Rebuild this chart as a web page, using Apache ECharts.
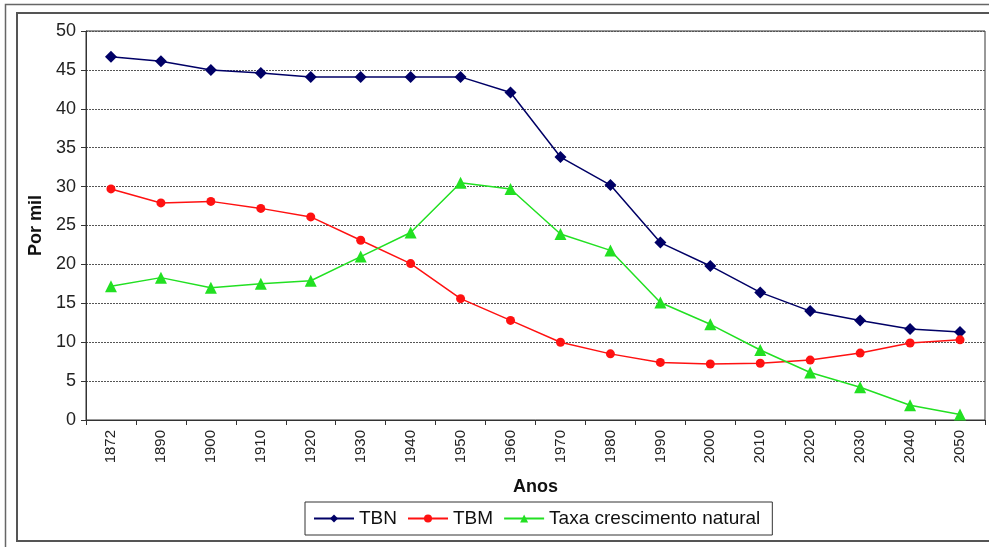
<!DOCTYPE html>
<html>
<head>
<meta charset="utf-8">
<script src="https://cdn.jsdelivr.net/npm/echarts@6/dist/echarts.min.js"></script>
<style>html,body{margin:0;padding:0;background:#fff;}#c{width:989px;height:547px;}</style>
</head>
<body>
<div id="c"></div>
<script>
var years = ['1872','1890','1900','1910','1920','1930','1940','1950','1960','1970','1980','1990','2000','2010','2020','2030','2040','2050'];
var tbn = [46.7,46.1,45.0,44.6,44.1,44.1,44.1,44.1,42.1,33.8,30.2,22.8,19.8,16.4,14.0,12.8,11.7,11.3];
var tbm = [29.7,27.9,28.1,27.2,26.1,23.1,20.1,15.6,12.8,10.0,8.5,7.4,7.2,7.3,7.7,8.6,9.9,10.3];
var taxa = [17.2,18.3,17.0,17.5,17.9,21.0,24.1,30.5,29.7,23.9,21.8,15.1,12.3,9.0,6.1,4.2,1.9,0.7];
var seriesNames = ['TBN','TBM','Taxa crescimento natural'];

var chart = echarts.init(document.getElementById('c'), null, {renderer:'canvas'});
var font = 'Liberation Sans, Arial, sans-serif';
chart.setOption({
  animation: false,
  backgroundColor: '#fff',
  textStyle: {fontFamily: font},
  graphic: [
    {type:'rect', shape:{x:5.5, y:4.5, width:1000, height:560}, style:{fill:'none', stroke:'#666', lineWidth:1.5}, z:-10},
    {type:'rect', shape:{x:17, y:13, width:1000, height:528}, style:{fill:'none', stroke:'#555', lineWidth:2}, z:-10}
  ],
  grid: {left:86, right:4, top:31, bottom:127, show:true, borderColor:'#333', borderWidth:1, backgroundColor:'transparent'},
  legend: {
    data: seriesNames,
    left: 305, top: 502, width: 480,
    padding: [7, 12, 7, 8],
    itemGap: 10,
    itemWidth: 40, itemHeight: 10,
    borderColor: '#333', borderWidth: 1, borderRadius: 0,
    textStyle: {fontSize: 19, color: '#111', fontFamily: font}
  },
  xAxis: {
    type: 'category',
    data: years,
    boundaryGap: true,
    name: 'Anos',
    nameLocation: 'middle',
    nameGap: 58,
    nameTextStyle: {fontSize: 18, fontWeight: 'bold', color: '#111', fontFamily: font},
    axisLine: {lineStyle: {color: '#333', width: 1}},
    axisTick: {show: true, length: 5, lineStyle: {color: '#333'}},
    axisLabel: {rotate: 90, fontSize: 15, color: '#222', margin: 10, fontFamily: font},
    splitLine: {show: false}
  },
  yAxis: {
    type: 'value',
    min: 0, max: 50, interval: 5,
    name: 'Por mil',
    nameLocation: 'middle',
    nameGap: 40,
    nameRotate: 90,
    nameTextStyle: {fontSize: 18, fontWeight: 'bold', color: '#111', fontFamily: font},
    axisLine: {show: true, lineStyle: {color: '#333', width: 1}},
    axisTick: {show: true, length: 5, lineStyle: {color: '#333'}},
    axisLabel: {fontSize: 18, color: '#222', margin: 10, fontFamily: font},
    splitLine: {show: true, lineStyle: {color: '#555', type: [2, 1], width: 1}}
  },
  series: [
    {name: seriesNames[0], type: 'line', data: tbn, symbol: 'diamond', symbolSize: 12,
     lineStyle: {color: '#000066', width: 1.5}, itemStyle: {color: '#000066'}},
    {name: seriesNames[1], type: 'line', data: tbm, symbol: 'circle', symbolSize: 9,
     lineStyle: {color: '#ff1111', width: 1.5}, itemStyle: {color: '#ff1111'}},
    {name: seriesNames[2], type: 'line', data: taxa, symbol: 'triangle', symbolSize: 12,
     lineStyle: {color: '#22e022', width: 1.5}, itemStyle: {color: '#22e022'}}
  ]
});
</script>
</body>
</html>
